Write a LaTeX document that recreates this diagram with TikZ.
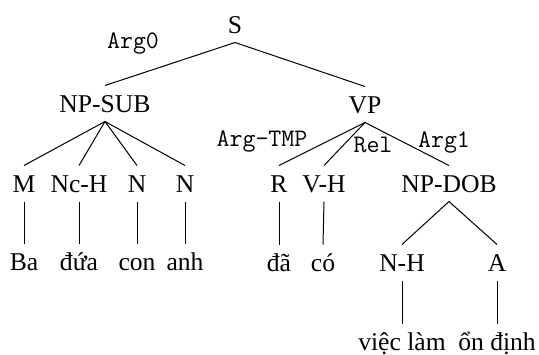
\documentclass[tikz,border=0pt]{standalone}
\usepackage{fontspec}
\setmainfont{Liberation Serif}
\begin{document}
\begin{tikzpicture}[x=0.5pt, y=-0.5pt, font=\fontsize{12.8}{15}\selectfont, line width=0.5pt,
    cat/.style={anchor=base, text height=8.5pt, text depth=0pt, inner xsep=1pt, inner ysep=4.5pt},
    role/.style={anchor=base, inner sep=0pt, font=\fontsize{12.6}{15}\selectfont\ttfamily}]
    \useasboundingbox (0,0) rectangle (539,354);

    \node[cat] (S) at (235,33) {S};
    \node[cat] (npsub) at (105,112) {NP-SUB};
    \node[cat] (vp) at (365,113) {VP};

    \node[cat] (m) at (24,192) {M};
    \node[cat] (nch) at (79,192) {Nc-H};
    \node[cat] (na) at (137,192) {N};
    \node[cat] (nb) at (185,192) {N};
    \node[cat] (r) at (279,192) {R};
    \node[cat] (vh) at (324,192) {V-H};
    \node[cat] (npdob) at (449,192) {NP-DOB};

    \node[cat] (ba) at (24,270) {Ba};
    \node[cat] (dua) at (79,270) {đứa};
    \node[cat] (con) at (137,270) {con};
    \node[cat] (anh) at (185,270) {anh};
    \node[cat] (da) at (279,271) {đã};
    \node[cat] (co) at (323,271) {có};
    \node[cat] (nh) at (402,271) {N-H};
    \node[cat] (adj) at (497,271) {A};
    \node[cat] (vieclam) at (402,350) {việc làm};
    \node[cat] (ondinh) at (497,350) {ổn định};

    \node[role] (arg0) at (133,48) {Arg0};
    \node[role] (argtmp) at (262,146) {Arg-TMP};
    \node[role] (rel) at (373,152) {Rel};
    \node[role] (arg1) at (444,147) {Arg1};

    \draw (S.south) -- (npsub.north);
    \draw (S.south) -- (vp.north);
    \draw (npsub.south) -- (m.north);
    \draw (npsub.south) -- (nch.north);
    \draw (npsub.south) -- (na.north);
    \draw (npsub.south) -- (nb.north);
    \draw (vp.south) -- (r.north);
    \draw (vp.south) -- (vh.north);
    \draw (vp.south) -- (npdob.north);
    \draw (m.south) -- (ba.north);
    \draw (nch.south) -- (dua.north);
    \draw (na.south) -- (con.north);
    \draw (nb.south) -- (anh.north);
    \draw (r.south) -- (da.north);
    \draw (vh.south) -- (co.north);
    \draw (npdob.south) -- (nh.north);
    \draw (npdob.south) -- (adj.north);
    \draw (nh.south) -- (vieclam.north);
    \draw (adj.south) -- (ondinh.north);
\end{tikzpicture}
\end{document}
